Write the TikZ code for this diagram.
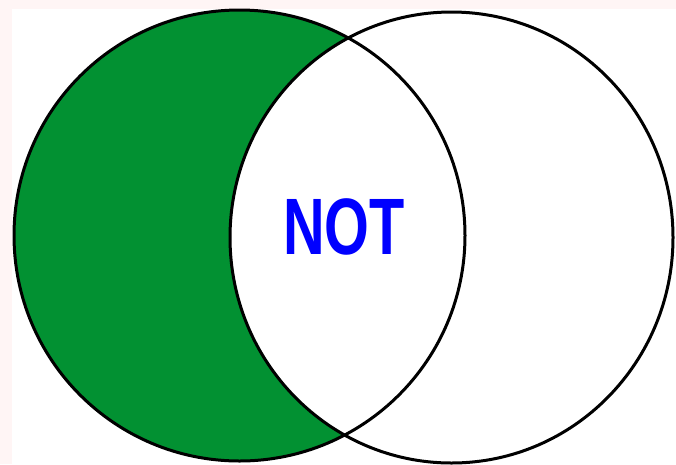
\documentclass[tikz,border=0pt]{standalone}
\usepackage{fontspec}
\setmainfont{Liberation Sans}
\definecolor{setgreen}{RGB}{2,145,50}
\definecolor{pagepink}{RGB}{255,245,245}
\tikzset{setline/.style={line width=3pt,draw=black}}
\begin{document}
\begin{tikzpicture}[x=1pt,y=-1pt]
\useasboundingbox (0,0) rectangle (676,464);
\fill[pagepink] (0,0) rectangle (676,464);
\fill[white] (12,9) rectangle (676,464);
\coordinate (A) at (239.5,235.5);
\coordinate (B) at (451.5,237.5);

\fill[setgreen] (A) circle [radius=225.5];
\fill[white] (B) ellipse [x radius=221.5,y radius=225.5];
\draw[setline] (A) circle [radius=225.5];
\draw[setline] (B) ellipse [x radius=221.5,y radius=225.5];
\node[text=blue,font=\fontsize{80}{80}\selectfont\bfseries,xscale=0.72] (not) at (344,226.5) {NOT};
\end{tikzpicture}
\end{document}
